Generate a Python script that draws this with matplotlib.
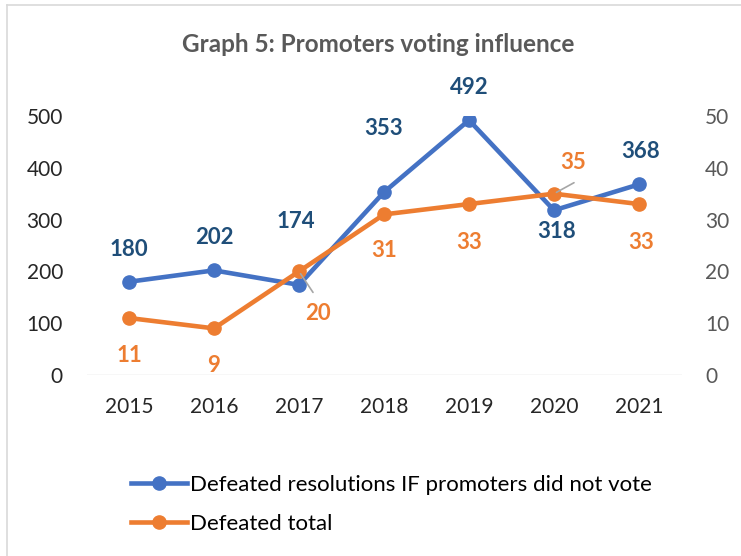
import matplotlib
matplotlib.use('Agg')
import matplotlib.pyplot as plt
from matplotlib.lines import Line2D

years = ['2015', '2016', '2017', '2018', '2019', '2020', '2021']
not_voted = [180, 202, 174, 353, 492, 318, 368]
defeated_total = [11, 9, 20, 31, 33, 35, 33]

BLUE = '#4472C4'
ORANGE = '#ED7D31'
BLUE_TXT = '#1F4E79'
GREY = '#595959'

plt.rcParams['font.family'] = ['Lato', 'DejaVu Sans']

# label offsets in pixels (dx, dy)
blue_off = [(0, 32), (0, 33), (-3, 63), (0, 64), (0, 33), (3, -21), (2, 33)]
orange_off = [(0, -37), (0, -37), (19, -42), (0, -36), (0, -38), (19, 31), (2, -38)]

fig = plt.figure(figsize=(7.41, 5.56), dpi=100)
ax = fig.add_axes([86.5 / 741, 1 - 375 / 556, 595 / 741, 259 / 556])
ax2 = ax.twinx()

x = list(range(len(years)))
ax.axhline(0, color='#D9D9D9', lw=1, zorder=1)
ax.plot(x, not_voted, color=BLUE, lw=3.3, marker='o', ms=9.5, zorder=3)
ax2.plot(x, defeated_total, color=ORANGE, lw=3.3, marker='o', ms=9.5, zorder=3)

ax.set_xlim(-0.5, len(years) - 0.5)
ax.set_ylim(0, 500)
ax2.set_ylim(0, 50)
ax.set_yticks(range(0, 501, 100))
ax2.set_yticks(range(0, 51, 10))
ax.set_xticks(x)
ax.set_xticklabels(years)

for a in (ax, ax2):
    for s in a.spines.values():
        s.set_visible(False)
    a.tick_params(length=0, labelsize=15)
ax.tick_params(axis='both', colors='#262626')
ax2.tick_params(axis='y', colors=GREY, pad=17)
ax.tick_params(axis='y', pad=17)
ax.tick_params(axis='x', pad=16)

for i, v in enumerate(not_voted):
    ax.annotate(str(v), (i, v), xytext=blue_off[i], textcoords='offset pixels',
                ha='center', va='center', fontsize=16, fontweight='bold', color=BLUE_TXT)
for i, v in enumerate(defeated_total):
    ax2.annotate(str(v), (i, v), xytext=orange_off[i], textcoords='offset pixels',
                 ha='center', va='center', fontsize=16, fontweight='bold', color=ORANGE)

# leader lines
ax2.annotate('', (2, 20), xytext=(14, -21), textcoords='offset pixels',
             arrowprops=dict(arrowstyle='-', color='#A6A6A6', lw=1.2, shrinkA=0, shrinkB=2))
ax2.annotate('', (5, 35), xytext=(20, 11), textcoords='offset pixels',
             arrowprops=dict(arrowstyle='-', color='#A6A6A6', lw=1.2, shrinkA=0, shrinkB=2))

fig.text(378 / 741, 1 - 45 / 556, 'Graph 5: Promoters voting influence', ha='center', va='center',
         fontsize=17.5, fontweight='bold', color=GREY)

handles = [Line2D([], [], color=BLUE, lw=3.3, marker='o', ms=9.5),
           Line2D([], [], color=ORANGE, lw=3.3, marker='o', ms=9.5)]
fig.legend(handles, ['Defeated resolutions IF promoters did not vote', 'Defeated total'],
           loc='upper left', bbox_to_anchor=(111 / 741, 1 - 455 / 556), frameon=False,
           fontsize=16, handlelength=2.5, handletextpad=0.15, labelspacing=0.85, labelcolor='black')

# chart border (top and left visible)
fig.add_artist(Line2D([7 / 741, 7 / 741], [0, 1 - 5 / 556], transform=fig.transFigure,
                      color='#D9D9D9', lw=1.2))
fig.add_artist(Line2D([7 / 741, 1], [1 - 5 / 556, 1 - 5 / 556], transform=fig.transFigure,
                      color='#D9D9D9', lw=1.2))

fig.savefig('out.png', dpi=100)
